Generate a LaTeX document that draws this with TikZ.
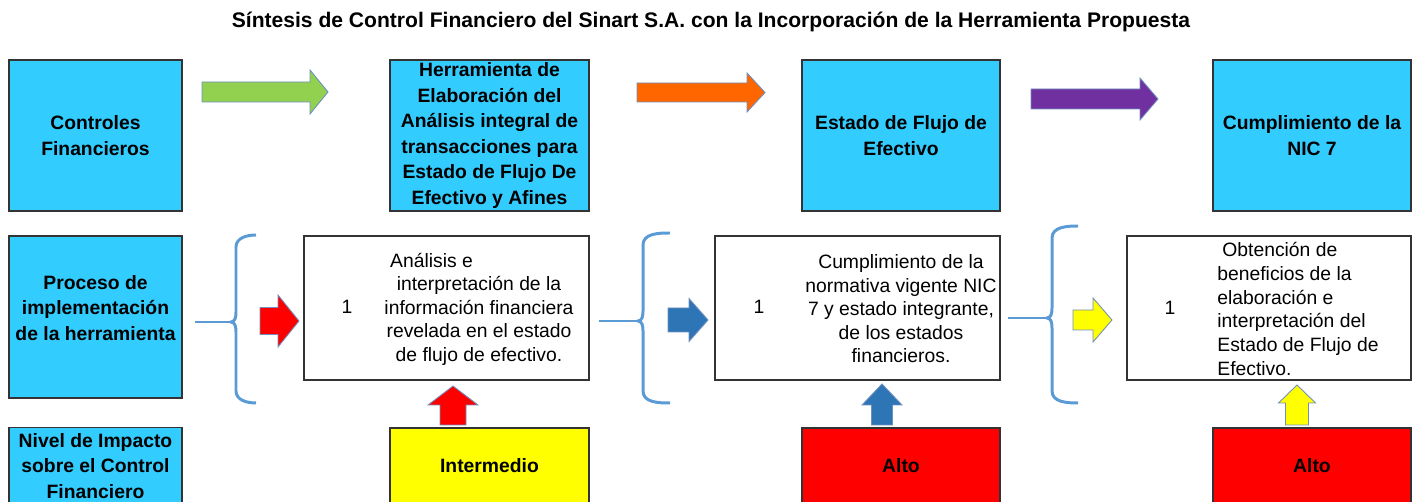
\documentclass[tikz,border=0pt]{standalone}
\usepackage{fontspec}
\setmainfont{Liberation Sans}
\usepackage{xcolor}
\usetikzlibrary{positioning}

\definecolor{boxcyan}{HTML}{33CCFF}
\definecolor{bracecol}{HTML}{5B9BD5}
\definecolor{arrowedge}{HTML}{6F8FBF}
\definecolor{agreen}{HTML}{92D050}
\definecolor{aorange}{HTML}{FF6600}
\definecolor{apurple}{HTML}{7030A0}
\definecolor{ared}{HTML}{FF0000}
\definecolor{ablue}{HTML}{2E75B6}
\definecolor{ayellow}{HTML}{FFFF00}

% block arrow to the right: tail x, head x, tip x, centre y, half body, half head, colour
\newcommand{\rarrow}[7]{%
  \filldraw[arrow edge, fill=#7] (#1,#4-#5) -- (#2,#4-#5) -- (#2,#4-#6) -- (#3,#4)
    -- (#2,#4+#6) -- (#2,#4+#5) -- (#1,#4+#5) -- cycle;}
% block arrow upwards: bottom y, head y, tip y, centre x, half body, half head, colour
\newcommand{\uarrow}[7]{%
  \filldraw[arrow edge, fill=#7] (#4-#5,#1) -- (#4-#5,#2) -- (#4-#6,#2) -- (#4,#3)
    -- (#4+#6,#2) -- (#4+#5,#2) -- (#4+#5,#1) -- cycle;}
% curly brace: vertical x, tip x, top y, bottom y, middle y, stem x
\newcommand{\leftbrace}[6]{%
  \draw[brace line] (#2,#3) to[out=180,in=90] (#1,#3+12) -- (#1,#5-10)
    to[out=-90,in=0] (#1-5,#5) to[out=0,in=90] (#1,#5+10) -- (#1,#4-12)
    to[out=-90,in=180] (#2,#4);
  \draw[brace line] (#6,#5) -- (#1-5,#5);}

\begin{document}
\begin{tikzpicture}[x=0.02cm,y=-0.02cm,
  cyan box/.style={rectangle,draw=black!80,line width=0.8pt,fill=boxcyan,
    minimum width=3.46cm,minimum height=3.02cm,align=center,inner sep=1pt,
    font=\bfseries\fontsize{11}{14.5}\selectfont},
  text box/.style={rectangle,draw=black!80,line width=0.8pt,fill=white,
    minimum width=5.7cm,minimum height=2.88cm},
  level box/.style={rectangle,draw=black!80,line width=0.8pt,
    minimum width=3.96cm,minimum height=1.52cm,align=center,
    font=\bfseries\fontsize{11}{14.5}\selectfont},
  body text/.style={inner sep=0pt,font=\fontsize{11}{13.4}\selectfont},
  arrow edge/.style={draw=arrowedge,line width=0.5pt},
  brace line/.style={draw=bracecol,line width=1.7pt}]

  \useasboundingbox (0,0) rectangle (1419,502);

  \node (title) at (711,22) {\bfseries\fontsize{12}{14}\selectfont S\'intesis de Control Financiero del Sinart S.A. con la Incorporaci\'on de la Herramienta Propuesta};

  % first row
  \node[cyan box] (ctrl) at (95.5,135.5) {Controles\\Financieros};
  \node[cyan box,minimum width=3.98cm] (herr) at (489.5,135.5) {Herramienta de\\Elaboraci\'on del\\An\'alisis integral de\\transacciones para\\Estado de Flujo De\\Efectivo y Afines};
  \node[cyan box,minimum width=3.96cm] (estado) at (901,135.5) {Estado de Flujo de\\Efectivo};
  \node[cyan box,minimum width=3.96cm] (nic) at (1312,135.5) {Cumplimiento de la\\NIC 7};

  \rarrow{202}{310}{328}{92}{10}{22}{agreen}
  \rarrow{637}{747}{765}{92.5}{9.5}{19.5}{aorange}
  \rarrow{1031}{1140}{1158}{99}{10}{21}{apurple}

  % second row
  \node[cyan box,minimum height=3.24cm] (proc) at (95.5,317) {};
  \node[align=center,inner sep=0pt,font=\bfseries\fontsize{11}{14.5}\selectfont] (proct) at (95.5,308) {Proceso de\\implementaci\'on\\de la herramienta};
  \node[text box] (an) at (446.5,308) {};
  \node[text box] (cum) at (857.5,308) {};
  \node[text box,minimum width=5.68cm] (obt) at (1269,308) {};

  \node[body text] (n1) at (347,307) {1};
  \node[body text] (n2) at (759,307) {1};
  \node[body text] (n3) at (1170,308) {1};
  \node[body text,align=center] (t1) at (479,309) {An\'alisis e\hspace*{1.9cm}\\interpretaci\'on de la\\informaci\'on financiera\\revelada en el estado\\de flujo de efectivo.};
  \node[body text,align=center] (t2) at (901,309) {Cumplimiento de la\\normativa vigente NIC\\7 y estado integrante,\\de los estados\\financieros.};
  \node[body text,align=left,anchor=west,font=\fontsize{11}{13.6}\selectfont] (t3) at (1217,309) {\hspace*{0.1cm}Obtenci\'on de\\beneficios de la\\elaboraci\'on e\\interpretaci\'on del\\Estado de Flujo de\\Efectivo.};

  \leftbrace{236}{256}{235}{403}{322}{195}
  \leftbrace{643}{670}{233}{403}{321}{599}
  \leftbrace{1052}{1078}{226}{403}{318}{1008}

  \rarrow{260}{278}{299}{321}{13.5}{26}{ared}
  \rarrow{668}{689}{708}{320}{12}{21.5}{ablue}
  \rarrow{1073}{1093}{1112}{320}{10}{22}{ayellow}

  % third row
  \node[level box,minimum width=3.46cm,fill=boxcyan] (nivel) at (95.5,466) {Nivel de Impacto\\sobre el Control\\Financiero};
  \node[level box,minimum width=3.98cm,fill=ayellow] (inter) at (489.5,466) {Intermedio};
  \node[level box,fill=ared] (alto1) at (901,466) {Alto};
  \node[level box,fill=ared] (alto2) at (1312,466) {Alto};

  \uarrow{425}{405}{386}{453}{13}{25}{ared}
  \uarrow{425}{405}{384}{882}{10.5}{20}{ablue}
  \uarrow{425}{403}{385}{1297}{11.5}{18.5}{ayellow}
\end{tikzpicture}
\end{document}
